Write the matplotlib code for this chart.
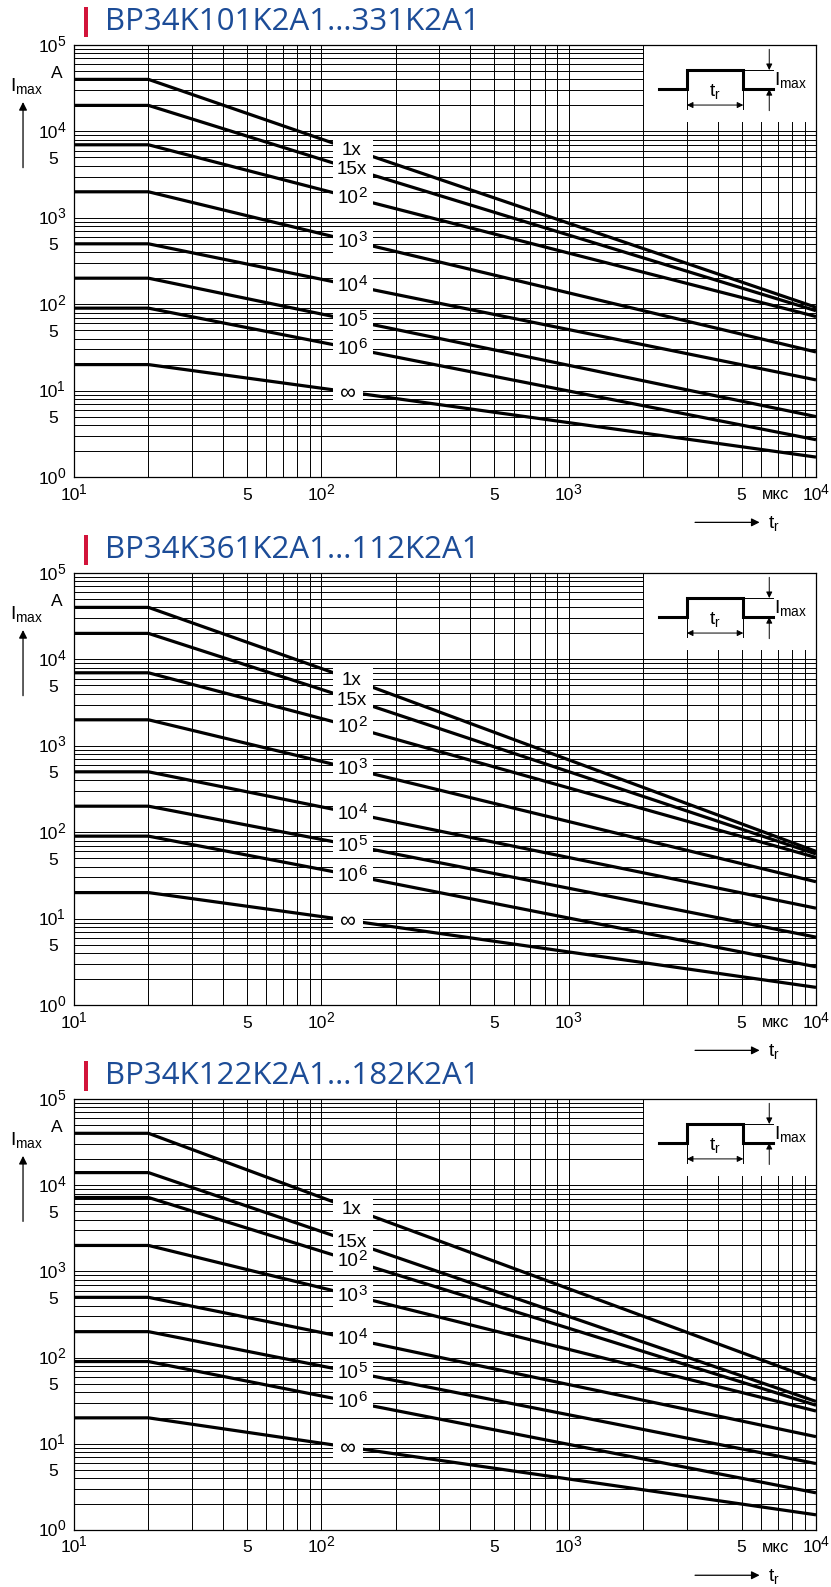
import numpy as np
import matplotlib
matplotlib.use("Agg")
import matplotlib.pyplot as plt
import matplotlib.transforms as mtransforms
from matplotlib.ticker import LogLocator, NullFormatter
from matplotlib.patches import Rectangle

plt.rcParams["font.family"] = ["Liberation Sans", "DejaVu Sans"]
plt.rcParams["mathtext.fontset"] = "custom"
plt.rcParams["mathtext.rm"] = "Liberation Sans"
plt.rcParams["mathtext.it"] = "Liberation Sans:italic"
plt.rcParams["mathtext.bf"] = "Liberation Sans:bold"

# ── Data ──────────────────────────────────────────────────────────────────
TITLES = ["BP34K101K2A1...331K2A1",
          "BP34K361K2A1...112K2A1",
          "BP34K122K2A1...182K2A1"]

# pulse duration points, µs
T_US = [10, 20, 112, 10000]

# curve labels as (base, exponent)
CURVE_LABELS = [("1x", ""), ("15x", ""), ("10", "2"), ("10", "3"),
                ("10", "4"), ("10", "5"), ("10", "6"), ("\u221e", "")]

# Imax (A) for each curve, one row per number of pulses
PANEL1_IMAX = [
    [40000, 40000, 7300, 92],
    [20000, 20000, 4300, 84],
    [7000, 7000, 1950, 72],
    [2000, 2000, 605, 28],
    [500, 500, 182, 13.3],
    [200, 200, 72, 5.0],
    [90, 90, 34, 2.7],
    [20, 20, 10.2, 1.7],
]
PANEL2_IMAX = [
    [40000, 40000, 7000, 60],
    [20000, 20000, 4050, 56],
    [7000, 7000, 1900, 51],
    [2000, 2000, 611, 26.7],
    [500, 500, 184, 13.2],
    [200, 200, 77.6, 6.1],
    [90, 90, 34.9, 2.77],
    [20, 20, 10.1, 1.6],
]
PANEL3_IMAX = [
    [40000, 40000, 6400, 55],
    [14000, 14000, 2600, 31],
    [7200, 7200, 1550, 28],
    [2000, 2000, 597, 24],
    [500, 500, 183, 12.1],
    [200, 200, 75, 5.9],
    [90, 90, 33.7, 2.7],
    [20, 20, 9.7, 1.5],
]

X_TICKS = [10, 50, 100, 500, 1000, 5000, 10000]
X_TICKLABELS = [("10", "1"), ("5", ""), ("10", "2"), ("5", ""),
                ("10", "3"), ("5", ""), ("10", "4")]
Y_TICKS = [1, 5, 10, 50, 100, 500, 1000, 5000, 10000, 100000]
Y_TICKLABELS = [("10", "0"), ("5", ""), ("10", "1"), ("5", ""), ("10", "2"),
                ("5", ""), ("10", "3"), ("5", ""), ("10", "4"), ("10", "5")]

LABEL_T = 133   # where the curve labels sit

TITLE_BLUE = "#1c4c97"
BAR_RED = "#d2143a"

W, H = 831, 1587
PX = 72 / 100   # points per pixel
fig = plt.figure(figsize=(W / 100, H / 100), dpi=100)

# axes boxes in pixels: (left, top, right, bottom)
BOXES = [(74, 45, 816, 477), (74, 573, 816, 1005), (74, 1099, 816, 1530)]

FS = 12.5      # tick label size
FS_EXP = 10    # exponent size


def power_text(ax, xy, coords, base, exp, dx, dy, ha, fs=FS, fs_exp=FS_EXP,
               zorder=5):
    """Write base (+ raised exponent); dx/dy in pixels."""
    dy = dy - 2   # digits sit a bit low in the original
    if not exp:
        ax.annotate(base, xy, xycoords=coords, xytext=(dx * PX, dy * PX),
                    textcoords="offset points", ha=ha, va="center",
                    fontsize=fs, annotation_clip=False, zorder=zorder)
        return
    ax.annotate(base, xy, xycoords=coords, xytext=(dx * PX, dy * PX),
                textcoords="offset points", ha="right", va="center",
                fontsize=fs, annotation_clip=False, zorder=zorder)
    ax.annotate(exp, xy, xycoords=coords, xytext=((dx - 0.5) * PX, (dy + 5.5) * PX),
                textcoords="offset points", ha="left", va="center",
                fontsize=fs_exp, annotation_clip=False, zorder=zorder)


def draw_pulse(ax):
    """Small pulse sketch in the top-right corner."""
    kw = dict(transform=ax.transAxes, clip_on=False, color="black")
    ax.add_patch(Rectangle((0.7685, 0.822), 0.2315, 0.178, transform=ax.transAxes,
                           facecolor="white", edgecolor="none", zorder=1.5))
    ax.plot([0.788, 0.826, 0.826, 0.902, 0.902, 0.942],
            [0.898, 0.898, 0.942, 0.942, 0.898, 0.898], lw=2.2, zorder=4,
            solid_joinstyle="miter", **kw)
    ax.plot([0.902, 0.942], [0.942, 0.942], lw=0.7, zorder=4, **kw)
    ax.plot([0.826, 0.826], [0.852, 0.893], lw=0.7, zorder=4, **kw)
    ax.plot([0.902, 0.902], [0.852, 0.893], lw=0.7, zorder=4, **kw)
    arr = dict(arrowstyle="-|>", color="black", lw=0.7, mutation_scale=9,
               shrinkA=0, shrinkB=0)
    ax.annotate("", xy=(0.937, 0.942), xytext=(0.937, 0.99),
                xycoords="axes fraction", arrowprops=arr, zorder=4)
    ax.annotate("", xy=(0.937, 0.898), xytext=(0.937, 0.848),
                xycoords="axes fraction", arrowprops=arr, zorder=4)
    ax.annotate("", xy=(0.826, 0.861), xytext=(0.902, 0.861),
                xycoords="axes fraction",
                arrowprops=dict(arrowstyle="<|-|>", color="black", lw=0.7,
                                mutation_scale=9, shrinkA=0, shrinkB=0), zorder=4)
    ax.text(0.864, 0.893, r"$\mathregular{t_r}$", fontsize=14, ha="center",
            va="center", transform=ax.transAxes, zorder=4)
    ax.text(0.944, 0.918, r"$\mathregular{I_{max}}$", fontsize=14, ha="left",
            va="center", transform=ax.transAxes, zorder=4)


def build_panel(box, title, imax):
    l, t, r, b = box
    ax = fig.add_axes([l / W, 1 - b / H, (r - l) / W, (b - t) / H])
    ax.set_xscale("log")
    ax.set_yscale("log")
    ax.set_xlim(10, 10000)
    ax.set_ylim(1, 100000)

    ax.set_axisbelow(True)
    ax.xaxis.set_minor_locator(LogLocator(base=10, subs=np.arange(2, 10), numticks=50))
    ax.yaxis.set_minor_locator(LogLocator(base=10, subs=np.arange(2, 10), numticks=50))
    ax.xaxis.set_minor_formatter(NullFormatter())
    ax.yaxis.set_minor_formatter(NullFormatter())
    ax.set_xticks(X_TICKS, [""] * len(X_TICKS))
    ax.set_yticks(Y_TICKS, [""] * len(Y_TICKS))
    ax.tick_params(which="both", length=0)
    ax.grid(True, which="both", color="black", lw=0.7)
    for s in ax.spines.values():
        s.set_linewidth(0.9)

    # tick labels with full-size exponents
    for tv, (base, exp) in zip(X_TICKS, X_TICKLABELS):
        if exp:
            power_text(ax, (tv, 0), ax.get_xaxis_transform(), base, exp, 5.5, -16, "right")
        else:
            power_text(ax, (tv, 0), ax.get_xaxis_transform(), base, exp, 0, -16, "center")
    for tv, (base, exp) in zip(Y_TICKS, Y_TICKLABELS):
        power_text(ax, (0, tv), ax.get_yaxis_transform(), base, exp, -16, 0, "right")

    logt = np.log10(T_US)
    for vals, (base, exp) in zip(imax, CURVE_LABELS):
        ax.plot(T_US, vals, color="black", lw=2.3, solid_capstyle="butt", zorder=3)
        ylab = 10 ** np.interp(np.log10(LABEL_T), logt, np.log10(vals))
        # white gap behind the label
        tr = fig.dpi_scale_trans + mtransforms.ScaledTranslation(LABEL_T, ylab, ax.transData)
        right = 0.11 if base == "\u221e" else 0.21
        ax.add_patch(Rectangle((-0.19, -0.115), 0.19 + right, 0.23, transform=tr,
                               facecolor="white", edgecolor="none", zorder=4))
        if exp:
            power_text(ax, (LABEL_T, ylab), "data", base, exp, 7, 1, "right",
                       fs=13.5, fs_exp=11)
        elif base == "\u221e":
            power_text(ax, (LABEL_T, ylab), "data", base, exp, -5, 1, "center",
                       fs=16)
        else:
            power_text(ax, (LABEL_T, ylab), "data", base, exp, 0, 1, "center",
                       fs=13.5)

    draw_pulse(ax)

    # axis annotations
    ax.text(-0.016, 0.933, "A", fontsize=FS, ha="right", va="center",
            transform=ax.transAxes)
    ax.text(-0.086, 0.905, r"$\mathregular{I_{max}}$", fontsize=14, ha="left",
            va="center", transform=ax.transAxes)
    ax.annotate("", xy=(-0.0687, 0.868), xytext=(-0.0687, 0.716),
                xycoords="axes fraction",
                arrowprops=dict(arrowstyle="-|>", color="black", lw=0.9,
                                mutation_scale=12, shrinkA=0, shrinkB=0))
    ax.text(0.946, -0.040, "\u043c\u043a\u0441", fontsize=12, ha="center",
            va="center", transform=ax.transAxes)
    ax.annotate("", xy=(0.924, -0.105), xytext=(0.837, -0.105),
                xycoords="axes fraction",
                arrowprops=dict(arrowstyle="-|>", color="black", lw=0.9,
                                mutation_scale=12, shrinkA=0, shrinkB=0))
    ax.text(0.935, -0.108, r"$\mathregular{t_r}$", fontsize=14, ha="left",
            va="center", transform=ax.transAxes)

    # heading with red marker
    ax.add_patch(Rectangle((0.0135, 1.0185), 0.0054, 0.0694, transform=ax.transAxes,
                           facecolor=BAR_RED, edgecolor="none", clip_on=False))
    ax.text(0.0418, 1.054, title, fontsize=22.5, color=TITLE_BLUE, family="Open Sans",
            ha="left", va="center", transform=ax.transAxes)
    return ax


for box, title, imax in zip(BOXES, TITLES, [PANEL1_IMAX, PANEL2_IMAX, PANEL3_IMAX]):
    build_panel(box, title, imax)

fig.savefig("out.png", dpi=100)
